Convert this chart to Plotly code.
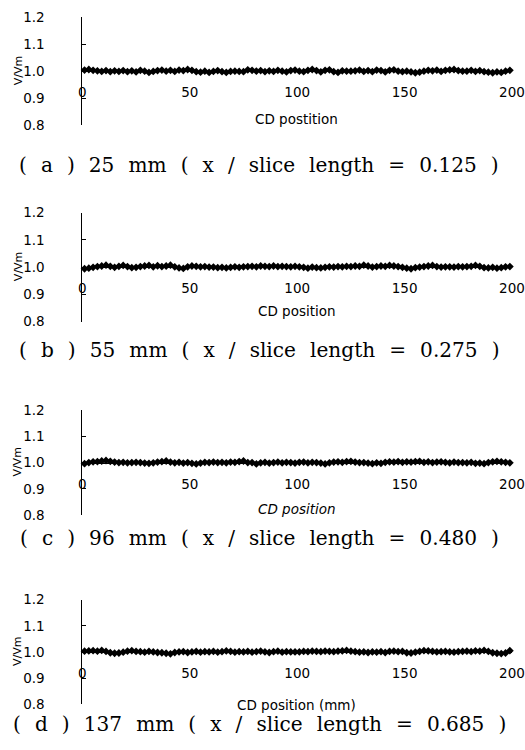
import plotly.graph_objects as go

# CD positions (mm), sampled every 2 mm
positions = list(range(1, 200, 2))

vvm_a = [1.004, 1.006, 1.003, 1.001, 0.999, 1.002, 0.998, 1.001, 0.999, 1.002,
         0.998, 1.001, 0.997, 1.003, 1.000, 0.995, 0.999, 1.002, 1.004, 1.000,
         1.003, 0.999, 1.004, 1.002, 1.006, 1.003, 0.998, 0.996, 1.000, 0.995,
         0.999, 1.002, 0.998, 0.995, 0.999, 1.000, 0.999, 0.998, 1.005, 1.003,
         1.000, 1.002, 0.998, 1.001, 0.999, 1.003, 1.000, 0.997, 1.002, 1.004,
         1.000, 0.998, 1.003, 1.006, 1.002, 0.997, 1.003, 1.005, 0.998, 0.995,
         1.001, 1.000, 1.000, 1.001, 1.004, 0.999, 1.002, 0.998, 1.004, 1.002,
         0.997, 1.003, 1.005, 1.000, 0.998, 1.000, 0.997, 0.994, 0.996, 1.000,
         1.003, 1.001, 1.004, 0.999, 1.003, 1.005, 1.006, 1.002, 1.000, 1.000,
         1.003, 0.999, 1.002, 0.998, 0.996, 0.994, 0.997, 0.995, 1.000, 1.003]

vvm_b = [0.994, 0.996, 0.999, 1.002, 1.004, 1.007, 1.003, 0.999, 1.003, 1.006,
         1.002, 0.998, 0.999, 1.002, 1.004, 1.006, 1.001, 1.005, 1.002, 1.004,
         1.007, 1.001, 0.997, 0.995, 1.001, 1.004, 1.003, 1.001, 1.002, 1.000,
         1.000, 0.998, 0.999, 0.997, 0.999, 1.001, 0.999, 1.001, 1.002, 1.003,
         1.001, 1.004, 1.003, 1.002, 1.004, 1.002, 1.003, 1.002, 1.001, 1.003,
         1.001, 0.999, 0.996, 1.000, 0.998, 0.997, 0.999, 1.001, 1.000, 1.002,
         1.001, 1.003, 1.002, 1.004, 1.003, 1.007, 1.004, 1.000, 1.002, 1.004,
         1.003, 1.006, 1.004, 1.002, 0.999, 0.996, 0.994, 0.998, 1.000, 1.002,
         1.004, 1.006, 1.002, 1.000, 1.001, 1.001, 1.000, 1.002, 1.001, 1.002,
         1.003, 1.006, 1.003, 0.998, 0.997, 0.999, 0.996, 0.998, 1.001, 1.002]

vvm_c = [0.996, 1.000, 1.003, 1.004, 1.006, 1.008, 1.005, 1.002, 1.000, 1.001,
         0.999, 1.000, 1.001, 1.000, 0.998, 0.997, 0.999, 1.002, 1.004, 1.006,
         1.002, 0.999, 1.001, 0.998, 1.000, 0.997, 0.995, 0.998, 1.001, 1.000,
         1.002, 1.000, 1.001, 0.999, 1.002, 1.001, 1.004, 1.006, 1.000, 1.000,
         0.995, 0.999, 1.001, 0.998, 1.000, 1.002, 0.999, 1.001, 1.000, 0.998,
         1.001, 1.002, 0.999, 1.001, 1.000, 0.998, 0.995, 0.999, 1.002, 1.003,
         1.001, 1.004, 1.005, 1.002, 1.000, 1.000, 0.998, 0.996, 0.999, 0.997,
         1.001, 1.003, 1.002, 1.004, 1.001, 1.003, 1.002, 1.004, 1.005, 1.001,
         1.003, 1.000, 1.002, 1.003, 1.001, 0.999, 1.002, 1.000, 1.000, 0.999,
         1.001, 0.997, 0.998, 0.996, 1.000, 1.003, 1.005, 1.003, 1.001, 0.999]

vvm_d = [1.003, 1.004, 1.005, 1.003, 1.006, 1.002, 0.997, 0.995, 0.996, 0.999,
         1.003, 1.005, 1.002, 1.001, 0.999, 1.002, 1.000, 0.998, 0.997, 0.995,
         0.993, 0.998, 1.000, 1.001, 0.998, 1.000, 1.002, 0.999, 1.001, 1.000,
         1.002, 0.999, 1.001, 1.004, 1.002, 0.999, 1.001, 1.000, 1.002, 0.999,
         1.001, 1.003, 1.000, 0.998, 1.001, 1.003, 0.999, 1.001, 1.000, 1.000,
         1.000, 1.002, 1.001, 1.003, 1.002, 1.001, 1.003, 1.002, 1.001, 1.003,
         1.004, 1.006, 1.003, 1.001, 0.999, 1.000, 0.998, 1.000, 0.999, 1.001,
         0.998, 1.002, 1.003, 1.001, 1.002, 0.997, 0.996, 0.999, 1.002, 1.005,
         1.004, 1.002, 1.000, 1.001, 1.002, 1.000, 0.999, 1.001, 1.002, 1.003,
         1.001, 1.004, 1.003, 1.006, 1.002, 0.997, 0.995, 0.994, 0.996, 1.005]

series = [vvm_a, vvm_b, vvm_c, vvm_d]
x_titles = ["CD postition", "CD position", "<i>CD position</i>", "CD position (mm)"]
captions = [
    "( a ) 25 mm ( x / slice length = 0.125 )",
    "( b ) 55 mm ( x / slice length = 0.275 )",
    "( c ) 96 mm ( x / slice length = 0.480 )",
    "( d ) 137 mm ( x / slice length = 0.685 )",
]
y_label = "V/Vm"
x_ticks = [0, 50, 100, 150, 200]
y_ticks = [0.8, 0.9, 1.0, 1.1, 1.2]

W, H = 525, 750
# panel pixel geometry (top, bottom) of the y axis
panels_px = [(9.5, 119.5), (209, 320.5), (411, 518), (604.5, 711.5)]
xtitle_px = [113, 310, 512, 712.5]
caption_px = [160, 349, 541.5, 732]
x0_px, x1_px = 81, 525

sans = "DejaVu Sans"
serif = "DejaVu Serif"
wide_gap = "\u2002\u2009"  # the captions are typeset with wide word spacing

fig = go.Figure()
layout = dict(
    width=W, height=H, margin=dict(l=0, r=0, t=0, b=0),
    paper_bgcolor="white", plot_bgcolor="white", showlegend=False,
)
annotations = []
for i, (vals, (top, bot)) in enumerate(zip(series, panels_px)):
    n = "" if i == 0 else str(i + 1)
    xa, ya = "x" + n, "y" + n
    fig.add_trace(go.Scatter(
        x=positions, y=vals, xaxis=xa, yaxis=ya, mode="lines+markers",
        line=dict(color="black", width=1.5),
        marker=dict(symbol="diamond", size=6, color="black"),
        cliponaxis=False,
    ))
    d0, d1 = 1 - bot / H, 1 - top / H
    layout["yaxis" + n] = dict(
        domain=[d0, d1], range=[0.8, 1.2], anchor=xa,
        tickvals=y_ticks, tickformat=".1f",
        ticks="inside", ticklen=4, tickcolor="black", tickwidth=1,
        showline=True, linecolor="black", linewidth=1,
        showgrid=False, zeroline=False, ticklabelstandoff=34,
        tickfont=dict(family=sans, size=13.5, color="black"),
    )
    layout["xaxis" + n] = dict(
        domain=[x0_px / W, x1_px / W], range=[0, 200], anchor="free",
        position=(d0 + d1) / 2,
        tickvals=x_ticks, ticks="", showline=True, linecolor="black", linewidth=1,
        showgrid=False, zeroline=False, ticklabelstandoff=9,
        ticklabeloverflow="allow",
        tickfont=dict(family=sans, size=13.5, color="black"),
    )
    mid_px = (top + bot) / 2
    annotations.append(dict(
        text=y_label, textangle=-90, xref="paper", yref="paper",
        x=14.5 / W, y=1 - mid_px / H, xanchor="center", yanchor="middle",
        showarrow=False, font=dict(family=sans, size=11, color="black"),
    ))
    annotations.append(dict(
        text=x_titles[i], xref="paper", yref="paper",
        x=302.5 / W, y=1 - xtitle_px[i] / H, xanchor="center", yanchor="middle",
        showarrow=False, font=dict(family=sans, size=13.5, color="black"),
    ))
    annotations.append(dict(
        text=captions[i].replace(" ", wide_gap), xref="paper", yref="paper",
        x=264 / W, y=1 - caption_px[i] / H, xanchor="center", yanchor="middle",
        showarrow=False, font=dict(family=serif, size=20.1, color="black"),
    ))
layout["annotations"] = annotations
fig.update_layout(**layout)
fig.write_html(
    "out.html", config={"displayModeBar": False},
    post_script=(
        "document.documentElement.style.margin='0px';"
        "document.documentElement.style.overflow='hidden';"
        "document.body.style.margin='0px';"
        "document.body.style.overflow='hidden';"
    ),
)
